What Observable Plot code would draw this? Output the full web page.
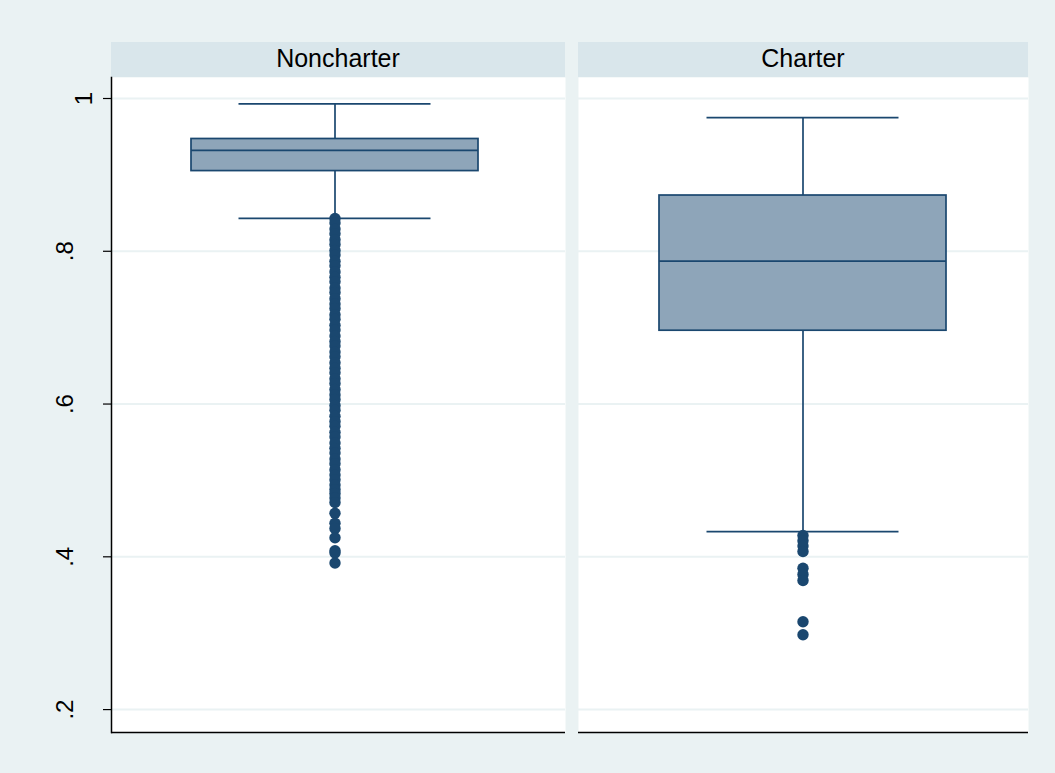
<!DOCTYPE html>
<html>
<head>
<meta charset="utf-8">
<script src="https://cdn.jsdelivr.net/npm/d3@7"></script>
<script src="https://cdn.jsdelivr.net/npm/@observablehq/plot@0.6"></script>
<style>
  html, body { margin: 0; padding: 0; background: #EAF2F3; }
  #wrap { position: relative; width: 1055px; height: 773px; background: #EAF2F3; overflow: hidden;
          font-family: "Liberation Sans", Arial, sans-serif; }
  .col { position: absolute; top: 0; }
  .hdr { position: absolute; top: 42px; height: 35px; line-height: 32px; background: #D9E6EB;
         text-align: center; font-size: 25px; color: #000; }
  .col svg { position: absolute; top: 77px; left: 0; }
</style>
</head>
<body>
<div id="wrap"></div>
<script>
// ---- data ----
const groups = ["Noncharter", "Charter"];
const whiskerLow  = [0.843, 0.433];
const quartile1   = [0.905, 0.696];
const medians     = [0.932, 0.787];
const quartile3   = [0.947, 0.873];
const whiskerHigh = [0.993, 0.975];

const noncharterOutliers = [
  0.843, 0.837, 0.829, 0.823, 0.815, 0.809, 0.801, 0.795, 0.787, 0.781,
  0.773, 0.766, 0.760, 0.752, 0.746, 0.738, 0.731, 0.725, 0.717, 0.711,
  0.703, 0.697, 0.689, 0.682, 0.676, 0.668, 0.662, 0.654, 0.647, 0.641,
  0.633, 0.627, 0.619, 0.612, 0.606, 0.598, 0.592, 0.584, 0.577, 0.571,
  0.563, 0.557, 0.549, 0.542, 0.536, 0.528, 0.522, 0.514, 0.507, 0.501,
  0.494, 0.488, 0.483, 0.477, 0.471, 0.457, 0.444, 0.437, 0.425, 0.408,
  0.405, 0.392
];
const charterOutliers = [0.428, 0.421, 0.414, 0.407, 0.385, 0.377, 0.369, 0.315, 0.298];

const yTicks = [0.2, 0.4, 0.6, 0.8, 1];
const yTickLabels = [".2", ".4", ".6", ".8", "1"];

// ---- build tables ----
const stats = groups.map((g, i) => ({
  group: g, lo: whiskerLow[i], q1: quartile1[i], med: medians[i], q3: quartile3[i], hi: whiskerHigh[i]
}));
const caps = stats.flatMap(s => [{group: s.group, v: s.lo}, {group: s.group, v: s.hi}]);
const outliers = [
  ...noncharterOutliers.map(v => ({group: "Noncharter", v})),
  ...charterOutliers.map(v => ({group: "Charter", v}))
];

const navy = "#1A476F";
const boxFill = "#8EA5B9";
const gridColor = "#EAF2F3";
const yDomain = [0.17, 1.0275];
const fontFamily = '"Liberation Sans", Arial, sans-serif';
const fmt = d => yTickLabels[yTicks.indexOf(d)];

const layout = [
  {group: "Noncharter", left: 0,   width: 571, marginLeft: 111, marginRight: 6,  align: 0.482, padding: 0.224, axis: true},
  {group: "Charter",    left: 571, width: 484, marginLeft: 7,   marginRight: 27, align: 0.5,   padding: 0.22,  axis: false}
];

const wrap = document.getElementById("wrap");

for (const L of layout) {
  const col = document.createElement("div");
  col.className = "col";
  col.style.left = L.left + "px";
  col.style.width = L.width + "px";
  col.style.height = "773px";

  const hdr = document.createElement("div");
  hdr.className = "hdr";
  hdr.style.left = L.marginLeft + "px";
  hdr.style.width = (L.width - L.marginLeft - L.marginRight) + "px";
  hdr.textContent = L.group;
  col.appendChild(hdr);

  const st = stats.filter(d => d.group === L.group);
  const cp = caps.filter(d => d.group === L.group);
  const ol = outliers.filter(d => d.group === L.group);

  const marks = [
    Plot.frame({fill: "white", stroke: null}),
    Plot.gridY(yTicks, {stroke: gridColor, strokeOpacity: 1, strokeWidth: 2}),
    Plot.ruleX(st, {x: "group", y1: "lo", y2: "hi", stroke: navy, strokeWidth: 1.7}),
    Plot.barY(st, {x: "group", y1: "q1", y2: "q3", fill: boxFill, stroke: navy, strokeWidth: 1.7}),
    Plot.tickY(st, {x: "group", y: "med", stroke: navy, strokeWidth: 1.7}),
    Plot.tickY(cp, {x: "group", y: "v", stroke: navy, strokeWidth: 1.7, insetLeft: 47.5, insetRight: 47.5}),
    Plot.dot(ol, {x: "group", y: "v", r: 5.7, fill: navy, stroke: null}),
    Plot.ruleY([yDomain[0]], {stroke: "black", strokeWidth: 1.5})
  ];
  if (L.axis) {
    marks.push(Plot.frame({anchor: "left", stroke: "black", strokeWidth: 1.5}));
    // fractional labels
    marks.push(Plot.axisY(yTicks.filter(d => d < 1), {
      tickFormat: fmt, tickSize: 8, tickPadding: 31, tickRotate: -90, fontSize: 24, label: null,
      stroke: "black", strokeWidth: 1.2
    }));
    // the "1" label sits closer to the axis in the reference
    marks.push(Plot.axisY(yTicks.filter(d => d >= 1), {
      tickFormat: fmt, tickSize: 8, tickPadding: 12, tickRotate: -90, fontSize: 24, label: null,
      stroke: "black", strokeWidth: 1.2
    }));
  }

  const chart = Plot.plot({
    width: L.width,
    height: 696,
    marginTop: 0,
    marginBottom: 41,
    marginLeft: L.marginLeft,
    marginRight: L.marginRight,
    x: {type: "band", domain: [L.group], padding: L.padding, align: L.align, axis: null},
    y: {domain: yDomain, axis: null},
    style: {fontFamily, fontSize: "24px", color: "black", background: "transparent", overflow: "visible"},
    marks
  });
  col.appendChild(chart);
  wrap.appendChild(col);
}
</script>
</body>
</html>
